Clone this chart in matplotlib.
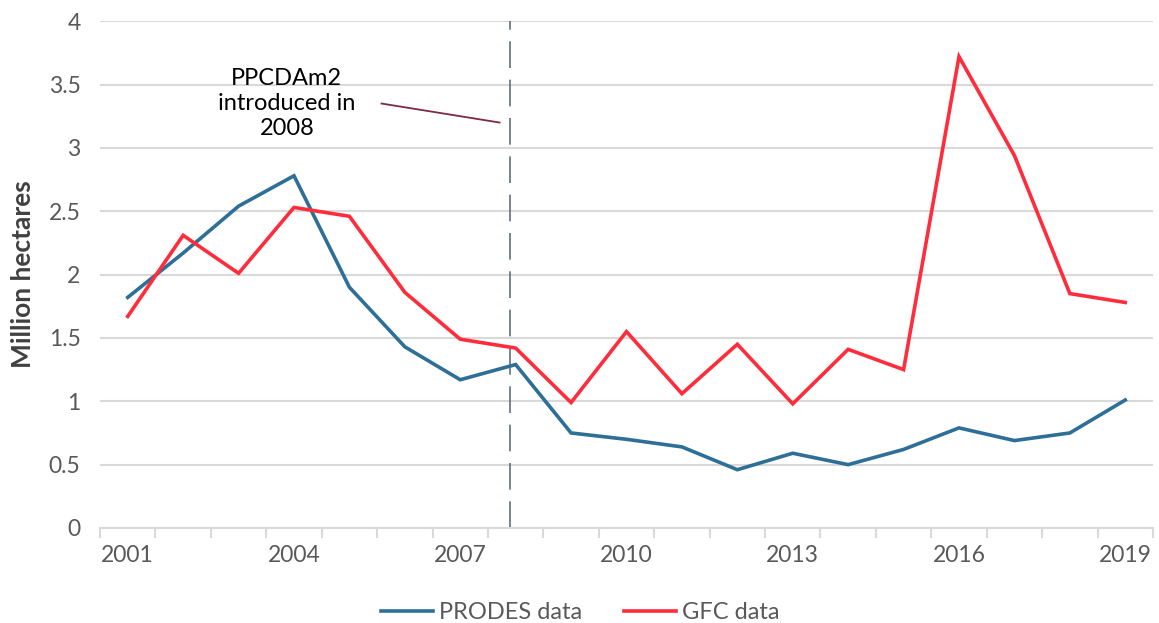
import matplotlib.pyplot as plt
from matplotlib.ticker import FixedLocator, MultipleLocator

plt.rcParams['font.family'] = ['Lato', 'DejaVu Sans']

years = list(range(2001, 2020))
prodes = [1.82, 2.17, 2.54, 2.78, 1.90, 1.43, 1.17, 1.29, 0.75, 0.70,
          0.64, 0.46, 0.59, 0.50, 0.62, 0.79, 0.69, 0.75, 1.01]
gfc = [1.67, 2.31, 2.01, 2.53, 2.46, 1.86, 1.49, 1.42, 0.99, 1.55,
       1.06, 1.45, 0.98, 1.41, 1.25, 3.72, 2.94, 1.85, 1.78]
shown_years = [2001, 2004, 2007, 2010, 2013, 2016, 2019]

blue = '#2E6F97'
red = '#FF2D3C'
grey_txt = '#595959'
grid_c = '#D9D9D9'

fig = plt.figure(figsize=(11.59, 6.23), dpi=100)
ax = fig.add_axes([0.0863, 0.1525, 0.9085, 0.8135])

x = list(range(len(years)))
ax.plot(x, prodes, color=blue, lw=2.6, label='PRODES data', solid_joinstyle='miter')
ax.plot(x, gfc, color=red, lw=2.6, label='GFC data', solid_joinstyle='miter')

# policy marker between 2007 and 2008
ax.plot([6.9, 6.9], [0, 4], color='#5F6F7F', lw=1.2, dashes=(16, 7), zorder=1)
ax.text(2.87, 3.35, 'PPCDAm2\nintroduced in\n2008', ha='center', va='center',
        fontsize=17, color='black', linespacing=1.25)
ax.plot([4.58, 6.71], [3.35, 3.20], color='#7B2C3F', lw=1.3)

ax.set_xlim(-0.5, len(years) - 0.5)
ax.set_ylim(0, 4)
ax.yaxis.set_major_locator(MultipleLocator(0.5))
ax.set_yticklabels([f'{v:g}' for v in ax.get_yticks()])
ax.set_xticks([years.index(y) for y in shown_years])
ax.set_xticklabels([str(y) for y in shown_years])
ax.xaxis.set_minor_locator(FixedLocator([i - 0.5 for i in range(len(years) + 1)]))

ax.tick_params(axis='x', which='major', length=0, pad=12, labelsize=16.5, labelcolor=grey_txt)
ax.tick_params(axis='x', which='minor', length=7, width=1.5, color=grid_c)
ax.tick_params(axis='y', length=0, pad=14, labelsize=16.5, labelcolor=grey_txt)

ax.grid(axis='y', color=grid_c, lw=1.5)
ax.set_axisbelow(True)
for s in ['top', 'right', 'left']:
    ax.spines[s].set_visible(False)
ax.spines['bottom'].set_color(grid_c)
ax.spines['bottom'].set_linewidth(1.5)

ax.set_ylabel('Million hectares', fontsize=19, fontweight='bold', color='#404040', labelpad=10)

leg = ax.legend(loc='lower center', bbox_to_anchor=(0.456, -0.23), ncol=2, frameon=False,
                fontsize=17, handlelength=2.2, columnspacing=1.8, handletextpad=0.25)
for t in leg.get_texts():
    t.set_color(grey_txt)

fig.savefig('out.png', dpi=100)
